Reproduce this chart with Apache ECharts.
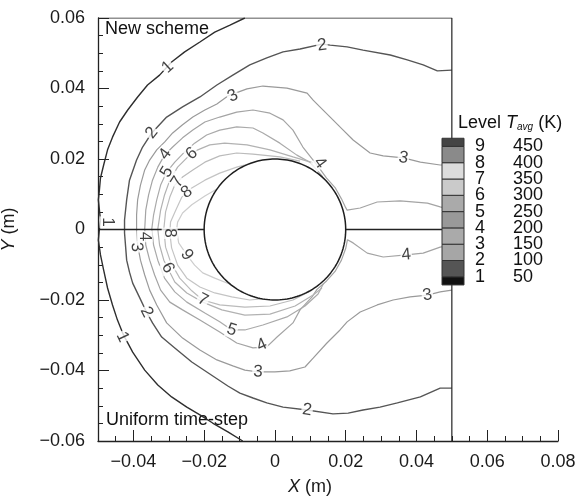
<!DOCTYPE html>
<html>
<head>
<meta charset="utf-8">
<script src="https://cdn.jsdelivr.net/npm/echarts@6/dist/echarts.min.js"></script>
<style>
    html, body { margin: 0; background: #fff; }
    #chart { width: 578px; height: 498px; }
</style>
</head>
<body>
<div id="chart"></div>
<script>
// contour lines, one array per level (x, y in metres)
const level1 = [
    [-0.0085, 0.0600], [-0.0127, 0.0580], [-0.0170, 0.0560], [-0.0212, 0.0532], [-0.0255, 0.0504],
    [-0.0292, 0.0475], [-0.0326, 0.0438], [-0.0360, 0.0410], [-0.0388, 0.0376], [-0.0416, 0.0339],
    [-0.0439, 0.0305], [-0.0459, 0.0262], [-0.0473, 0.0226], [-0.0484, 0.0183], [-0.0493, 0.0146],
    [-0.0496, 0.0112], [-0.0499, 0.0084], [-0.0496, 0.0055], [-0.0493, 0.0027], [-0.0496, 0.0001],
    [-0.0499, -0.0030], [-0.0493, -0.0072], [-0.0484, -0.0115], [-0.0473, -0.0166], [-0.0459, -0.0214],
    [-0.0445, -0.0257], [-0.0428, -0.0299], [-0.0402, -0.0348], [-0.0368, -0.0399], [-0.0331, -0.0441],
    [-0.0292, -0.0475], [-0.0249, -0.0504], [-0.0212, -0.0526], [-0.0176, -0.0549], [-0.0133, -0.0574],
    [-0.0091, -0.0600]
];
const level2 = [
    [0.0500, 0.0452], [0.0459, 0.0450], [0.0419, 0.0467], [0.0374, 0.0481], [0.0326, 0.0495],
    [0.0249, 0.0509], [0.0204, 0.0518], [0.0156, 0.0523], [0.0133, 0.0526], [0.0071, 0.0512],
    [0.0023, 0.0504], [-0.0023, 0.0487], [-0.0071, 0.0467], [-0.0119, 0.0438], [-0.0164, 0.0410],
    [-0.0212, 0.0376], [-0.0261, 0.0348], [-0.0306, 0.0319], [-0.0348, 0.0274], [-0.0374, 0.0234],
    [-0.0391, 0.0197], [-0.0411, 0.0140], [-0.0419, 0.0084], [-0.0425, 0.0027], [-0.0425, -0.0010],
    [-0.0419, -0.0087], [-0.0411, -0.0121], [-0.0402, -0.0152], [-0.0382, -0.0194], [-0.0363, -0.0234],
    [-0.0346, -0.0265], [-0.0320, -0.0305], [-0.0283, -0.0336], [-0.0235, -0.0376], [-0.0184, -0.0410],
    [-0.0133, -0.0444], [-0.0099, -0.0464], [-0.0062, -0.0478], [-0.0023, -0.0492], [0.0023, -0.0504],
    [0.0091, -0.0512], [0.0164, -0.0523], [0.0207, -0.0521], [0.0249, -0.0512], [0.0297, -0.0504],
    [0.0346, -0.0492], [0.0411, -0.0475], [0.0467, -0.0450], [0.0500, -0.0450]
];
const level3 = [
    [0.0500, 0.0183], [0.0467, 0.0183], [0.0411, 0.0191], [0.0363, 0.0203], [0.0306, 0.0209],
    [0.0269, 0.0217], [0.0221, 0.0254], [0.0193, 0.0282], [0.0164, 0.0311], [0.0127, 0.0348],
    [0.0108, 0.0367], [0.0091, 0.0387], [0.0034, 0.0401], [-0.0034, 0.0407], [-0.0079, 0.0399],
    [-0.0133, 0.0379], [-0.0164, 0.0356], [-0.0198, 0.0339], [-0.0232, 0.0319], [-0.0261, 0.0297],
    [-0.0289, 0.0274], [-0.0312, 0.0248], [-0.0334, 0.0226], [-0.0354, 0.0197], [-0.0368, 0.0169],
    [-0.0380, 0.0126], [-0.0388, 0.0084], [-0.0391, 0.0041], [-0.0391, 0.0001], [-0.0388, -0.0044],
    [-0.0380, -0.0087], [-0.0368, -0.0129], [-0.0354, -0.0172], [-0.0334, -0.0214], [-0.0306, -0.0265],
    [-0.0261, -0.0308], [-0.0212, -0.0342], [-0.0164, -0.0370], [-0.0119, -0.0387], [-0.0085, -0.0399],
    [-0.0048, -0.0404], [0.0000, -0.0404], [0.0042, -0.0401], [0.0085, -0.0390], [0.0108, -0.0365],
    [0.0147, -0.0322], [0.0184, -0.0285], [0.0204, -0.0262], [0.0241, -0.0234], [0.0289, -0.0214],
    [0.0334, -0.0200], [0.0382, -0.0191], [0.0431, -0.0186], [0.0467, -0.0177], [0.0500, -0.0172]
];
const level4 = [
    [0.0500, 0.0055], [0.0467, 0.0064], [0.0431, 0.0075], [0.0354, 0.0081], [0.0289, 0.0078],
    [0.0241, 0.0061], [0.0204, 0.0055], [0.0200, 0.0062], [0.0188, 0.0087], [0.0170, 0.0119],
    [0.0146, 0.0146], [0.0127, 0.0172], [0.0108, 0.0197], [0.0079, 0.0234], [0.0051, 0.0282],
    [0.0023, 0.0311], [-0.0014, 0.0330], [-0.0062, 0.0339], [-0.0108, 0.0333], [-0.0156, 0.0319],
    [-0.0198, 0.0305], [-0.0232, 0.0282], [-0.0261, 0.0260], [-0.0289, 0.0234], [-0.0312, 0.0211],
    [-0.0331, 0.0177], [-0.0346, 0.0140], [-0.0357, 0.0098], [-0.0365, 0.0055], [-0.0368, 0.0001],
    [-0.0365, -0.0044], [-0.0354, -0.0087], [-0.0340, -0.0129], [-0.0323, -0.0172], [-0.0297, -0.0206],
    [-0.0261, -0.0228], [-0.0212, -0.0257], [-0.0156, -0.0291], [-0.0108, -0.0322], [-0.0062, -0.0336],
    [-0.0023, -0.0333], [0.0006, -0.0305], [0.0051, -0.0265], [0.0071, -0.0228], [0.0105, -0.0191],
    [0.0119, -0.0170], [0.0146, -0.0146], [0.0170, -0.0119], [0.0188, -0.0087], [0.0200, -0.0054],
    [0.0205, -0.0029], [0.0221, -0.0038], [0.0261, -0.0067], [0.0306, -0.0078], [0.0371, -0.0072],
    [0.0419, -0.0067], [0.0467, -0.0050], [0.0500, -0.0044]
];
const level5 = [
    [0.0135, 0.0150], [0.0099, 0.0191], [0.0062, 0.0211], [0.0014, 0.0245], [-0.0034, 0.0274],
    [-0.0062, 0.0288], [-0.0108, 0.0291], [-0.0156, 0.0282], [-0.0193, 0.0268], [-0.0227, 0.0245],
    [-0.0255, 0.0220], [-0.0283, 0.0191], [-0.0306, 0.0163], [-0.0323, 0.0126], [-0.0334, 0.0084],
    [-0.0343, 0.0041], [-0.0348, 0.0001], [-0.0343, -0.0044], [-0.0331, -0.0087], [-0.0312, -0.0138],
    [-0.0283, -0.0177], [-0.0249, -0.0206], [-0.0198, -0.0237], [-0.0156, -0.0262], [-0.0122, -0.0285],
    [-0.0085, -0.0285], [-0.0034, -0.0271], [0.0034, -0.0248], [0.0085, -0.0217], [0.0122, -0.0183],
    [0.0138, -0.0152]
];
const level6 = [
    [0.0108, 0.0189], [0.0051, 0.0206], [-0.0014, 0.0226], [-0.0079, 0.0240], [-0.0142, 0.0245],
    [-0.0184, 0.0240], [-0.0218, 0.0226], [-0.0246, 0.0206], [-0.0275, 0.0177], [-0.0297, 0.0140],
    [-0.0312, 0.0098], [-0.0323, 0.0055], [-0.0331, 0.0001], [-0.0326, -0.0044], [-0.0314, -0.0087],
    [-0.0303, -0.0109], [-0.0283, -0.0149], [-0.0249, -0.0180], [-0.0204, -0.0206], [-0.0150, -0.0228],
    [-0.0085, -0.0243], [-0.0014, -0.0240], [0.0057, -0.0217], [0.0108, -0.0186], [0.0133, -0.0166]
];
const level7 = [
    [0.0071, 0.0194], [0.0014, 0.0206], [-0.0062, 0.0214], [-0.0108, 0.0217], [-0.0156, 0.0209],
    [-0.0198, 0.0191], [-0.0232, 0.0169], [-0.0261, 0.0149], [-0.0283, 0.0126], [-0.0297, 0.0092],
    [-0.0309, 0.0050], [-0.0314, 0.0001], [-0.0309, -0.0050], [-0.0295, -0.0092], [-0.0269, -0.0138],
    [-0.0235, -0.0174], [-0.0204, -0.0200], [-0.0156, -0.0214], [-0.0085, -0.0220], [-0.0014, -0.0217],
    [0.0051, -0.0200], [0.0105, -0.0172]
];
const level8 = [
    [-0.0070, 0.0187], [-0.0108, 0.0177], [-0.0156, 0.0160], [-0.0198, 0.0140], [-0.0235, 0.0118],
    [-0.0263, 0.0092], [-0.0280, 0.0055], [-0.0295, 0.0021], [-0.0297, -0.0010], [-0.0292, -0.0052],
    [-0.0275, -0.0101], [-0.0249, -0.0138], [-0.0212, -0.0163], [-0.0170, -0.0180], [-0.0122, -0.0191],
    [-0.0071, -0.0200], [-0.0040, -0.0197]
];
const level9 = [
    [-0.0164, 0.0115], [-0.0198, 0.0095], [-0.0235, 0.0070], [-0.0261, 0.0047], [-0.0275, 0.0021],
    [-0.0278, -0.0001], [-0.0272, -0.0038], [-0.0249, -0.0072], [-0.0227, -0.0101], [-0.0204, -0.0123],
    [-0.0170, -0.0138], [-0.0125, -0.0156]
];
const contours = [level1, level2, level3, level4, level5, level6, level7, level8, level9];

// inline contour labels: [level, x, y]
const contourLabels = [
    [1, -0.0303, 0.0461], [1, -0.0473, 0.0021], [1, -0.0431, -0.0305],
    [2, 0.0133, 0.0523], [2, -0.0348, 0.0274], [2, -0.0363, -0.0234], [2, 0.0091, -0.0512],
    [3, -0.0119, 0.0379], [3, 0.0363, 0.0203], [3, -0.0391, -0.0050], [3, -0.0048, -0.0404], [3, 0.0431, -0.0186],
    [4, 0.0127, 0.0189], [4, -0.0310, 0.0214], [4, -0.0368, -0.0020], [4, -0.0037, -0.0328], [4, 0.0371, -0.0072],
    [5, -0.0306, 0.0163], [5, -0.0122, -0.0285],
    [6, -0.0235, 0.0215], [6, -0.0303, -0.0109],
    [7, -0.0275, 0.0135], [7, -0.0204, -0.0200],
    [8, -0.0249, 0.0106], [8, -0.0297, -0.0010],
    [9, -0.0249, -0.0072]
];

// legend
const levelNumbers = [1, 2, 3, 4, 5, 6, 7, 8, 9];
const levelTemps = [50, 100, 150, 200, 250, 300, 350, 400, 450];

// geometry
const domain = { xmin: -0.05, xmax: 0.05, ymin: -0.06, ymax: 0.06 };
const cylinderRadius = 0.02;
const xRange = { min: -0.05, max: 0.08, minorStep: 0.005, majorStep: 0.02 };

const lineColors = ['#2e2e2e', '#555', '#9a9a9a', '#a4a4a4', '#aaaaaa', '#b2b2b2', '#bbbbbb', '#c4c4c4', '#cdcdcd'];
const bandColors = ['#111', '#555', '#a6a6a6', '#aaa', '#999', '#aaa', '#cacaca', '#dcdcdc', '#8a8a8a', '#444'];
const FONT = '"Liberation Sans", Arial, sans-serif';

const circlePts = [];
for (let i = 0; i <= 180; i++) {
    const t = i / 180 * Math.PI * 2;
    circlePts.push([cylinderRadius * Math.cos(t), cylinderRadius * Math.sin(t)]);
}

// category positions for the x tick marks (every minor step)
const xTickCats = [];
for (let v = xRange.min; v <= xRange.max + 1e-9; v += xRange.minorStep) {
    xTickCats.push(Math.round(v * 1000) / 1000);
}
const isMajorX = (v) => Math.abs(v / xRange.majorStep - Math.round(v / xRange.majorStep)) < 1e-6;

const fmt = (v) => {
    const r = Math.round(v * 100) / 100;
    if (r === 0) return '0';
    return (r < 0 ? '\u2212' : '') + Math.abs(r).toFixed(2);
};

// label angle follows the local direction of its contour
function labelAngle (level, x, y) {
    const pts = contours[level - 1];
    let best = 0, bd = Infinity;
    pts.forEach((p, i) => {
        const d = (p[0] - x) ** 2 + (p[1] - y) ** 2;
        if (d < bd) { bd = d; best = i; }
    });
    const a = pts[Math.max(best - 1, 0)];
    const b = pts[Math.min(best + 1, pts.length - 1)];
    let ang = Math.atan2(b[1] - a[1], b[0] - a[0]) * 180 / Math.PI;
    if (ang > 90) ang -= 180;
    if (ang < -90) ang += 180;
    return ang;
}

const series = contours.map((pts, i) => ({
    type: 'line',
    data: pts,
    showSymbol: false,
    silent: true,
    lineStyle: { color: lineColors[i], width: i < 2 ? 1.4 : 1.2 },
    z: 2
}));

series.push({
    type: 'line', data: circlePts, showSymbol: false, silent: true,
    lineStyle: { color: '#1e1e1e', width: 1.5 }, z: 3
});
series.push({
    type: 'line', data: [[domain.xmin, 0], [-cylinderRadius, 0]], showSymbol: false, silent: true,
    lineStyle: { color: '#222', width: 1.4 }, z: 3
});
series.push({
    type: 'line', data: [[cylinderRadius, 0], [domain.xmax, 0]], showSymbol: false, silent: true,
    lineStyle: { color: '#222', width: 1.4 }, z: 3
});
series.push({
    type: 'line', data: [[domain.xmin, domain.ymax], [domain.xmax, domain.ymax], [domain.xmax, domain.ymin]],
    showSymbol: false, silent: true, lineStyle: { color: '#222', width: 1.2 }, z: 3
});
series.push({
    type: 'scatter',
    symbolSize: 1,
    itemStyle: { color: 'rgba(0,0,0,0)' },
    silent: true,
    z: 5,
    data: contourLabels.map(([lv, x, y]) => ({
        name: String(lv),
        value: [x, y],
        label: { rotate: labelAngle(lv, x, y) }
    })),
    label: {
        show: true,
        position: 'inside',
        formatter: '{b}',
        color: '#111',
        fontSize: 17,
        fontFamily: FONT,
        backgroundColor: '#fff',
        padding: [0, 1],
        lineHeight: 16
    }
});

// legend graphics
const legLeft = 442, legW = 22, legTop = 146.4, legStep = 16.3;
const legendEls = [];
const yOf = (lv) => legTop + (9 - lv) * legStep;
const bandEdges = [yOf(1) + legStep / 2].concat(levelNumbers.map(yOf)).concat([yOf(9) - legStep / 2]);
for (let i = 0; i < bandColors.length; i++) {
    const y0 = bandEdges[i + 1], y1 = bandEdges[i];
    legendEls.push({
        type: 'rect',
        shape: { x: legLeft, y: y0, width: legW, height: y1 - y0 },
        style: { fill: bandColors[i], stroke: '#333', lineWidth: 1 },
        z: 20
    });
}
levelNumbers.forEach((lv, i) => {
    legendEls.push({
        type: 'text', z: 21,
        style: { text: String(lv), x: 475, y: yOf(lv), font: '18px ' + FONT, fill: '#111', textVerticalAlign: 'middle' }
    });
    legendEls.push({
        type: 'text', z: 21,
        style: { text: String(levelTemps[i]), x: 513, y: yOf(lv), font: '18px ' + FONT, fill: '#111', textVerticalAlign: 'middle' }
    });
});
legendEls.push({
    type: 'text', z: 21,
    style: {
        x: 458, y: 123, textVerticalAlign: 'middle',
        text: '{a|Level }{t|T}{s|avg}{a| (K)}',
        rich: {
            a: { fontSize: 18, fontFamily: FONT, fill: '#111' },
            t: { fontSize: 18, fontFamily: FONT, fontStyle: 'italic', fill: '#111' },
            s: { fontSize: 10, fontFamily: FONT, fontStyle: 'italic', fill: '#111', padding: [8, 0, 0, 0] }
        }
    }
});
legendEls.push({
    type: 'text', z: 21,
    style: { text: 'New scheme', x: 105, y: 29, font: '18px ' + FONT, fill: '#111', textVerticalAlign: 'middle' }
});
legendEls.push({
    type: 'text', z: 1,
    style: { text: 'Uniform time-step', x: 106, y: 420, font: '18px ' + FONT, fill: '#111', textVerticalAlign: 'middle' }
});

const axisText = { color: '#1a1a1a', fontSize: 18, fontFamily: FONT };

const chart = echarts.init(document.getElementById('chart'));
chart.setOption({
    animation: false,
    backgroundColor: '#fff',
    grid: { left: 98, right: 20, top: 18, bottom: 57, containLabel: false, outerBoundsMode: 'none' },
    xAxis: [
        {
            type: 'value', min: xRange.min, max: xRange.max, interval: xRange.minorStep, position: 'bottom',
            name: '{i|X} (m)', nameLocation: 'middle', nameGap: 37,
            nameTextStyle: {
                color: '#1a1a1a', fontSize: 18, fontFamily: FONT, padding: [0, 36, 0, 0],
                rich: { i: { fontStyle: 'italic', fontSize: 18, fontFamily: FONT, color: '#1a1a1a' } }
            },
            axisLine: { onZero: false, lineStyle: { color: '#222', width: 1.3 } },
            axisTick: { inside: true, length: 5, lineStyle: { color: '#222' } },
            axisLabel: Object.assign({
                margin: 12,
                formatter: (v) => isMajorX(v) ? fmt(v) : ''
            }, axisText),
            splitLine: { show: false }
        },
        {
            type: 'category', data: xTickCats, boundaryGap: false, position: 'bottom',
            axisLine: { show: false, onZero: false },
            axisTick: {
                inside: true, length: 11, lineStyle: { color: '#222' },
                interval: (idx, v) => isMajorX(Number(v))
            },
            axisLabel: { show: false },
            splitLine: { show: false }
        }
    ],
    yAxis: {
        type: 'value', min: -0.06, max: 0.06, interval: 0.02,
        name: '{i|Y} (m)', nameLocation: 'middle', nameGap: 80, nameRotate: 90,
        nameTextStyle: {
            color: '#1a1a1a', fontSize: 18, fontFamily: FONT,
            rich: { i: { fontStyle: 'italic', fontSize: 18, fontFamily: FONT, color: '#1a1a1a' } }
        },
        axisLine: { onZero: false, lineStyle: { color: '#222', width: 1.3 } },
        axisTick: { inside: true, length: 11, lineStyle: { color: '#222' } },
        minorTick: { show: true, splitNumber: 4, length: 5, lineStyle: { color: '#222' } },
        axisLabel: Object.assign({ margin: 13, formatter: fmt }, axisText),
        splitLine: { show: false }
    },
    graphic: legendEls,
    series: series
});
</script>
</body>
</html>
